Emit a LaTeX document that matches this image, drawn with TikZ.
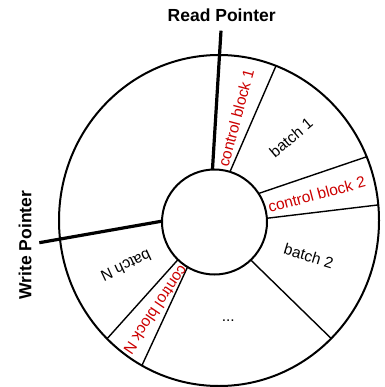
\documentclass[tikz,border=0pt]{standalone}
\usepackage{fontspec}
\setmainfont{Liberation Sans}
\usetikzlibrary{shapes.geometric}
\definecolor{cbred}{RGB}{204,0,0}
\begin{document}
\begin{tikzpicture}[x=1pt,y=-1pt,
  rimline/.style={line width=2pt},
  spoke/.style={line width=1.4pt},
  pointer/.style={line width=3.2pt},
  lbl/.style={font=\fontsize{15.5}{15.5}\selectfont, inner sep=0pt},
  cb/.style={lbl, text=cbred},
  ptr/.style={font=\fontsize{17.5}{17.5}\selectfont\bfseries, inner sep=0pt}]
\useasboundingbox (0,0) rectangle (384,387);
\node[draw, ellipse, rimline, minimum width=320pt, minimum height=331pt, inner sep=0pt] (rim) at (219,220.5) {};
% spoke end points
\coordinate (s1a) at (229.5,172.8); \coordinate (s1b) at (276,65.8);
\coordinate (s2a) at (256.2,194.3); \coordinate (s2b) at (366.8,156.7);
\coordinate (s3a) at (265.7,218.4); \coordinate (s3b) at (378.4,204.9);
\coordinate (s4a) at (249.3,258.6); \coordinate (s4b) at (331.3,338.6);
\coordinate (s5a) at (188.1,265.8); \coordinate (s5b) at (141.9,365.5);
\coordinate (s6a) at (179,258.5);   \coordinate (s6b) at (107,338.8);
\coordinate (r0) at (221,30.7);  \coordinate (r1) at (212.4,170.5);
\coordinate (w0) at (39.3,242.7); \coordinate (w1) at (164,220.8);
\draw[spoke] (s1a) -- (s1b);
\draw[spoke] (s2a) -- (s2b);
\draw[spoke] (s3a) -- (s3b);
\draw[spoke] (s4a) -- (s4b);
\draw[spoke] (s5a) -- (s5b);
\draw[spoke] (s6a) -- (s6b);
\draw[pointer] (r0) -- (r1);
\draw[pointer] (w0) -- (w1);
\node[draw, circle, rimline, fill=white, minimum size=105pt, inner sep=0pt] (hub) at (214.5,222) {};
% labels
\node[ptr] (rp) at (221.7,15) {Read Pointer};
\node[ptr, rotate=90] (wp) at (25,245) {Write Pointer};
\node[cb, rotate=75] (cb1) at (236,118) {control block 1};
\node[lbl, rotate=40] (b1) at (291,137.5) {batch 1};
\node[cb, rotate=15] (cb2) at (316.7,194.3) {control block 2};
\node[lbl, rotate=-17] (b2) at (308.7,256) {batch 2};
\node[lbl, rotate=205] (bN) at (126,266) {batch N};
\node[cb, rotate=236] (cbN) at (156,310) {control block N};
\node[lbl] (dots) at (228.3,320.7) {...};
\end{tikzpicture}
\end{document}
